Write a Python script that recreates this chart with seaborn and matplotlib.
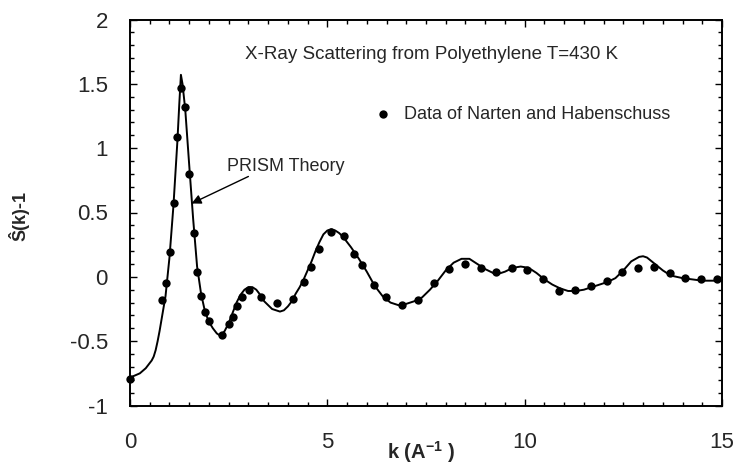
import matplotlib
matplotlib.use("Agg")
import matplotlib.pyplot as plt
from matplotlib.ticker import MultipleLocator, FixedLocator, FixedFormatter
import seaborn as sns
import pandas as pd

# PRISM theory curve, S(k)-1 versus k (1/Angstrom)
theory_k = [0.0, 0.1, 0.25, 0.4, 0.5, 0.55, 0.6, 0.65, 0.7, 0.75, 0.8, 0.9,
            1.0, 1.1, 1.2, 1.25, 1.29, 1.33, 1.4, 1.5, 1.6, 1.7, 1.8, 1.9,
            2.0, 2.1, 2.2, 2.3, 2.4, 2.5, 2.6, 2.7, 2.8, 2.9, 3.0, 3.1, 3.2,
            3.3, 3.4, 3.5, 3.6, 3.7, 3.8, 3.9, 4.0, 4.1, 4.2, 4.3, 4.4, 4.5,
            4.6, 4.7, 4.8, 4.9, 5.0, 5.1, 5.2, 5.3, 5.4, 5.6, 5.8, 6.0, 6.2,
            6.4, 6.6, 6.8, 7.0, 7.2, 7.4, 7.6, 7.8, 8.0, 8.2, 8.4, 8.5, 8.6,
            8.8, 9.0, 9.2, 9.3, 9.5, 9.7, 9.9, 10.1, 10.3, 10.5, 10.7, 10.9,
            11.1, 11.3, 11.5, 11.7, 11.9, 12.1, 12.3, 12.5, 12.7, 12.9, 13.0,
            13.1, 13.3, 13.5, 13.7, 14.0, 14.5, 15.0]
theory_s = [-0.78, -0.77, -0.75, -0.71, -0.67, -0.65, -0.62, -0.57, -0.50,
            -0.42, -0.33, -0.15, 0.15, 0.55, 1.05, 1.35, 1.57, 1.50, 1.30,
            0.87, 0.45, 0.08, -0.13, -0.27, -0.35, -0.40, -0.44, -0.46, -0.42,
            -0.36, -0.28, -0.20, -0.14, -0.10, -0.08, -0.08, -0.10, -0.14,
            -0.19, -0.22, -0.25, -0.26, -0.27, -0.26, -0.23, -0.19, -0.13,
            -0.08, -0.02, 0.05, 0.12, 0.20, 0.27, 0.33, 0.36, 0.37, 0.36, 0.34,
            0.31, 0.23, 0.14, 0.04, -0.07, -0.15, -0.20, -0.22, -0.21, -0.19,
            -0.16, -0.10, -0.03, 0.05, 0.11, 0.14, 0.14, 0.14, 0.10, 0.06,
            0.03, 0.02, 0.04, 0.07, 0.08, 0.07, 0.03, -0.02, -0.06, -0.09,
            -0.11, -0.11, -0.10, -0.08, -0.06, -0.04, -0.01, 0.05, 0.12, 0.155,
            0.16, 0.15, 0.10, 0.05, 0.01, -0.01, -0.03, -0.03]

# Measured structure factor (Narten and Habenschuss)
data_k = [0.0, 0.80, 0.91, 1.01, 1.11, 1.20, 1.29, 1.40, 1.50, 1.63, 1.71,
          1.80, 1.91, 2.01, 2.32, 2.50, 2.62, 2.72, 2.84, 3.02, 3.33, 3.72,
          4.12, 4.40, 4.59, 4.78, 5.09, 5.41, 5.68, 5.89, 6.19, 6.49, 6.89,
          7.29, 7.70, 8.08, 8.48, 8.89, 9.28, 9.68, 10.07, 10.47, 10.87,
          11.27, 11.67, 12.08, 12.46, 12.87, 13.27, 13.67, 14.07, 14.47, 14.88]
data_s = [-0.795, -0.18, -0.05, 0.19, 0.57, 1.09, 1.47, 1.32, 0.80, 0.34,
          0.04, -0.15, -0.27, -0.34, -0.45, -0.37, -0.31, -0.23, -0.16, -0.10,
          -0.16, -0.20, -0.17, -0.04, 0.08, 0.22, 0.35, 0.32, 0.18, 0.09,
          -0.06, -0.16, -0.22, -0.18, -0.05, 0.06, 0.10, 0.07, 0.04, 0.07,
          0.05, -0.02, -0.11, -0.10, -0.07, -0.03, 0.04, 0.07, 0.08, 0.03,
          -0.01, -0.02, -0.02]

x_ticks = [0, 5, 10, 15]
y_ticks = [2, 1.5, 1, 0.5, 0, -0.5, -1]
y_tick_labels = ["2", "1.5", "1", "0.5", "0", "-0.5", "-1"]

title_text = "X-Ray Scattering from Polyethylene T=430 K"
legend_text = "Data of Narten and Habenschuss"
theory_text = "PRISM Theory"

sns.set_style("ticks")
plt.rcParams["font.family"] = ["Liberation Sans", "DejaVu Sans"]
plt.rcParams["mathtext.fontset"] = "custom"
plt.rcParams["mathtext.rm"] = "Liberation Sans"
plt.rcParams["mathtext.bf"] = "Liberation Sans:bold"
plt.rcParams["axes.unicode_minus"] = False

theory = pd.DataFrame({"k": theory_k, "s": theory_s})
data = pd.DataFrame({"k": data_k, "s": data_s})

fig = plt.figure(figsize=(7.37, 4.67), dpi=100)
ax = fig.add_axes([130 / 737, 1 - 405.5 / 467, 592 / 737, 386 / 467])

sns.lineplot(data=theory, x="k", y="s", ax=ax, color="black", lw=1.4,
             legend=False)
sns.scatterplot(data=data, x="k", y="s", ax=ax, color="black", s=36,
                edgecolor="black", linewidth=0, clip_on=False, zorder=3,
                label=legend_text)

ax.set_xlim(0, 15)
ax.set_ylim(-1, 2)
ax.xaxis.set_major_locator(FixedLocator(x_ticks))
ax.xaxis.set_minor_locator(MultipleLocator(0.5))
ax.yaxis.set_major_locator(FixedLocator(y_ticks))
ax.yaxis.set_major_formatter(FixedFormatter(y_tick_labels))
ax.yaxis.set_minor_locator(MultipleLocator(0.1))

for side in ax.spines.values():
    side.set_linewidth(1.4)
    side.set_color("black")
ax.tick_params(which="both", direction="in", top=True, right=True,
               color="black", width=1.0)
ax.tick_params(which="major", length=5, labelsize=16)
ax.tick_params(which="minor", length=3)
ax.tick_params(axis="x", which="major", pad=19)
ax.tick_params(axis="y", which="major", pad=16)

ax.set_xlabel(r"k (A$^{\mathbf{-1}}$ )", fontsize=14.5, fontweight="bold")
ax.xaxis.set_label_coords(0.4916, -0.088)
ax.xaxis.label.set_va("top")
ax.set_ylabel("Ŝ(k)-1", fontsize=13, fontweight="bold")
ax.yaxis.set_label_coords(-0.169, 0.491)

ax.text(2.91, 1.69, title_text, fontsize=13.5, ha="left", va="baseline")
ax.text(2.46, 0.82, theory_text, fontsize=13, ha="left", va="baseline")
ax.annotate("", xy=(1.56, 0.57), xytext=(3.0, 0.78),
            arrowprops=dict(arrowstyle="-|>", color="black", lw=1.0,
                            mutation_scale=14, shrinkA=0, shrinkB=0))

ax.legend(loc="center left", bbox_to_anchor=(0.412, 0.755), frameon=False,
          fontsize=13, handlelength=1.0, handletextpad=0.67, borderpad=0,
          borderaxespad=0, markerscale=1.0)

fig.savefig("out.png", dpi=100)
